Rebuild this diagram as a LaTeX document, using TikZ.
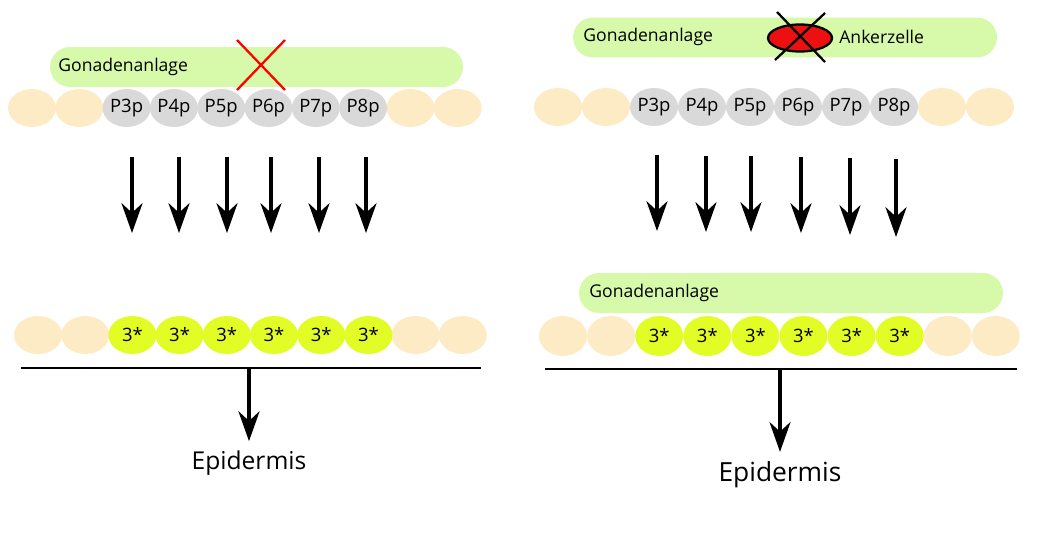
\documentclass[tikz,border=0pt]{standalone}
\usepackage{fontspec}
\setmainfont{Open Sans}
\usetikzlibrary{arrows.meta,shapes.geometric}

\definecolor{gonade}{RGB}{214,250,170}
\definecolor{randfarbe}{RGB}{253,235,198}
\definecolor{vpcgrau}{RGB}{217,217,217}
\definecolor{sterngelb}{RGB}{226,252,38}
\definecolor{ankerrot}{RGB}{236,16,16}

\tikzset{
  zelle/.style={ellipse, minimum width=0.96cm, minimum height=0.76cm, inner sep=0pt,
    font=\fontsize{10.5}{12}\selectfont},
  randz/.style={zelle, fill=randfarbe},
  pz/.style={zelle, fill=vpcgrau},
  sternz/.style={zelle, fill=sterngelb},
  anlage/.style={fill=gonade, rounded corners=0.4cm, minimum width=8.48cm,
    minimum height=0.8cm, inner sep=0pt},
  beschriftung/.style={anchor=west, inner sep=0pt, font=\fontsize{10}{12}\selectfont},
  epi/.style={anchor=base, inner sep=5pt, font=\fontsize{14}{16}\selectfont},
  pfeil/.style={line width=1.8pt, -{Stealth[length=17pt,width=12pt,inset=5.5pt]}},
}

\begin{document}
\begin{tikzpicture}[x=0.02cm,y=-0.02cm]
    \useasboundingbox (0,0) rectangle (1053,534);

    % links oben
    \node[anlage, minimum width=8.26cm] (gonL) at (256.5,67) {};
    \node[beschriftung] (gonLtext) at (58,67) {Gonadenanlage};
    \draw[red, line width=1.3pt] (237,40) -- (285,90);
    \draw[red, line width=1.3pt] (285,40) -- (237,90);

    \foreach \k in {0,1,8,9}
      \node[randz] (lt\k) at ({32+47.3*\k},108) {};
    \foreach \k/\t in {2/P3p,3/P4p,4/P5p,5/P6p,6/P7p,7/P8p}
      \node[pz] (lt\k) at ({32+47.3*\k},108) {\t};

    \foreach \x [count=\n] in {132,179,227,271,319,366} {
      \coordinate (la\n) at (\x,157);
      \coordinate (lb\n) at (\x,233);
      \draw[pfeil] (la\n) -- (lb\n);
    }

    % links unten
    \foreach \k in {0,1,8,9}
      \node[randz] (lu\k) at ({38+47.2*\k},335) {};
    \foreach \k in {2,...,7}
      \node[sternz] (lu\k) at ({38+47.2*\k},335) {3*};

    \coordinate (linL1) at (21,368);
    \coordinate (linL2) at (481,368);
    \draw[line width=1.5pt] (linL1) -- (linL2);
    \coordinate (stammL) at (249,368);
    \node[epi] (epiL) at (249,469) {Epidermis};
    \draw[pfeil] (stammL) -- (epiL.north);

    % rechts oben
    \node[anlage] (gonR) at (785,37.5) {};
    \node[beschriftung] (gonRtext) at (583,37) {Gonadenanlage};
    \node[ellipse, fill=ankerrot, draw=black, line width=1.3pt, minimum width=1.28cm,
      minimum height=0.54cm, inner sep=0pt] (anker) at (800,38) {};
    \draw[line width=1.3pt] (777,12) -- (825,62);
    \draw[line width=1.3pt] (825,13) -- (775,60);
    \node[beschriftung] (ankertext) at (839,37) {Ankerzelle};

    \foreach \k in {0,1,8,9}
      \node[randz] (rt\k) at ({558+48*\k},107) {};
    \foreach \k/\t in {2/P3p,3/P4p,4/P5p,5/P6p,6/P7p,7/P8p}
      \node[pz] (rt\k) at ({558+48*\k},107) {\t};

    \foreach \x/\a/\b [count=\n] in {657/155/231,706/156/232,751/156/232,801/157/233,850/158/235,896/159/237} {
      \coordinate (ra\n) at (\x,\a);
      \coordinate (rb\n) at (\x,\b);
      \draw[pfeil] (ra\n) -- (rb\n);
    }

    % rechts unten
    \node[anlage] (gonRu) at (791,293) {};
    \node[beschriftung] (gonRutext) at (589,293) {Gonadenanlage};

    \foreach \k in {0,1,8,9}
      \node[randz, minimum height=0.8cm] (ru\k) at ({563+48.1*\k},336) {};
    \foreach \k in {2,...,7}
      \node[sternz, minimum height=0.8cm] (ru\k) at ({563+48.1*\k},336) {3*};

    \coordinate (linR1) at (545,369);
    \coordinate (linR2) at (1017,369);
    \draw[line width=1.5pt] (linR1) -- (linR2);
    \coordinate (stammR) at (780,369);
    \node[epi, font=\fontsize{15}{17}\selectfont] (epiR) at (780,481) {Epidermis};
    \draw[pfeil] (stammR) -- (epiR.north);
\end{tikzpicture}
\end{document}
